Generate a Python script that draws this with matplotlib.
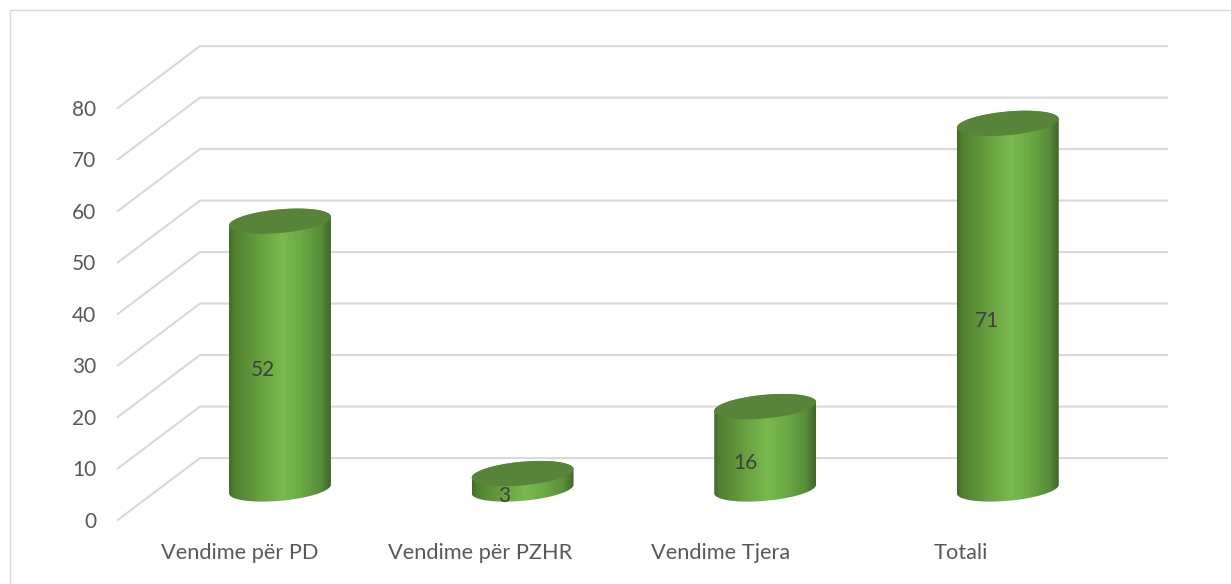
import numpy as np
import matplotlib
matplotlib.use('Agg')
import matplotlib.pyplot as plt
from matplotlib.colors import LinearSegmentedColormap
from matplotlib.lines import Line2D
from matplotlib.patches import Polygon

# Data
categories = ['Vendime për PD', 'Vendime për PZHR', 'Vendime Tjera', 'Totali']
values = [52, 3, 16, 71]
y_ticks = [0, 10, 20, 30, 40, 50, 60, 70, 80]

plt.rcParams['font.family'] = ['Lato', 'DejaVu Sans']

grid_color = '#d9d9d9'
text_color = '#595959'
label_color = '#404040'
top_color = '#58843a'

fig = plt.figure(figsize=(12.31, 5.84), dpi=100)
ax = fig.add_axes([0, 0, 1, 1])

# Axes fill the figure: x is category index, y is the value scale
xlim = (-1.154, 3.92)
ylim = (-18.45, 94.95)
ax.axis('off')

# Fake 3D geometry (in data units)
floor_depth = 6.0      # value units the floor shifts the gridlines up/down
side_left = -0.668     # front end of the side wall lines
wall_left = -0.330     # where side wall meets back wall
wall_right = 3.657
half_w = 0.210         # cylinder half width
skew = 0.85            # tilt of the ellipse
minor = 2.3            # ellipse half height

# Gridlines on side wall and back wall
for tick in y_ticks:
    ax.plot([side_left, wall_left, wall_right],
            [tick - floor_depth, tick + floor_depth, tick + floor_depth],
            color=grid_color, linewidth=1.5, solid_joinstyle='miter', zorder=1)
    ax.text(side_left - 0.09, tick - floor_depth - 0.4, str(tick), ha='right', va='center',
            fontsize=15, color=text_color, zorder=5)

# Horizontal shading of the cylinder sides
shade = LinearSegmentedColormap.from_list('cyl', [
    (0.00, '#426a29'),
    (0.05, '#50802f'),
    (0.30, '#67a040'),
    (0.52, '#79b94d'),
    (0.70, '#6cab45'),
    (0.90, '#588e38'),
    (1.00, '#41662a'),
])
gradient = np.linspace(0, 1, 256).reshape(1, -1)

for i, (cat, val) in enumerate(zip(categories, values)):
    t_front = np.linspace(np.pi, 2 * np.pi, 60)
    t_back = np.linspace(0, np.pi, 60)
    t_all = np.linspace(0, 2 * np.pi, 120)

    # Body outline: front arc of the base, then the back arc of the top rim
    # so the top face fully covers the seam
    bx = i + half_w * np.cos(t_front)
    by = skew * np.cos(t_front) + minor * np.sin(t_front)
    tx = i + half_w * np.cos(t_back)
    ty = val + skew * np.cos(t_back) + minor * np.sin(t_back)
    body = Polygon(np.column_stack([np.r_[bx, tx], np.r_[by, ty]]),
                   closed=True, facecolor='none', edgecolor='none', zorder=3)
    ax.add_patch(body)
    im = ax.imshow(gradient, cmap=shade, aspect='auto', zorder=3,
                   extent=(i - half_w, i + half_w, -4, val + 4))
    im.set_clip_path(body)

    # Top face
    ax.fill(i + half_w * np.cos(t_all),
            val + skew * np.cos(t_all) + minor * np.sin(t_all),
            color=top_color, linewidth=0, zorder=4)

    # Value label and category label
    ax.text(i - 0.072 - 0.004 * i, val / 2 - 2.9, str(val), ha='center', va='center',
            fontsize=15, color=label_color, zorder=6)
    ax.text(i - 0.168 - 0.008 * i, -12.4, cat, ha='center', va='center',
            fontsize=15.7, color=text_color, zorder=5)

ax.set_xlim(xlim)
ax.set_ylim(ylim)

# Chart frame, only top and left show in the crop
fig.add_artist(Line2D([10 / 1231, 1], [1 - 10 / 584, 1 - 10 / 584],
                      color=grid_color, linewidth=1.0))
fig.add_artist(Line2D([10 / 1231, 10 / 1231], [0, 1 - 10 / 584],
                      color=grid_color, linewidth=1.0))

fig.savefig('out.png', dpi=100, facecolor='white')
